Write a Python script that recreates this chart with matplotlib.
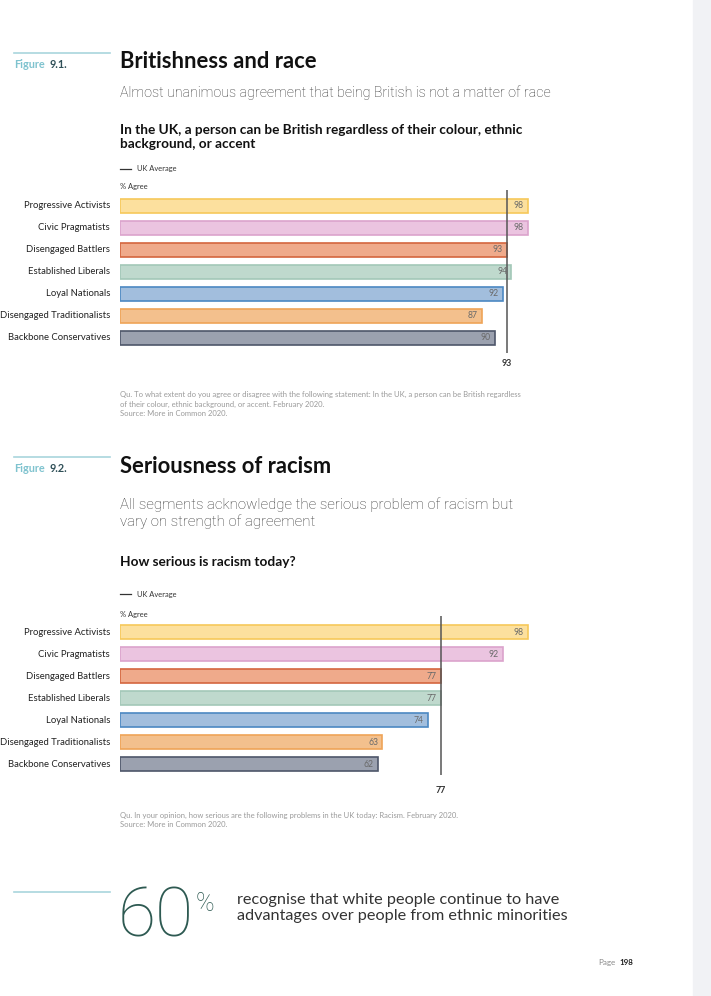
import numpy as np
import matplotlib
matplotlib.use('Agg')
import matplotlib.pyplot as plt

plt.rcParams['font.family'] = ['Lato', 'DejaVu Sans']

# segments and colours
segments = ['Progressive Activists', 'Civic Pragmatists', 'Disengaged Battlers',
            'Established Liberals', 'Loyal Nationals', 'Disengaged Traditionalists',
            'Backbone Conservatives']
fills = ['#FCE09E', '#EBC4E0', '#EFAA8B', '#BFD9CD', '#A2BEDD', '#F3C08D', '#9BA1AF']
edges = ['#F6C85A', '#DBA3CC', '#D4663F', '#A3C8B8', '#4C88C2', '#EFA458', '#4E566A']

# figure 9.1
british = [98, 98, 93, 94, 92, 87, 90]
british_avg = 93

# figure 9.2
racism = [98, 92, 77, 77, 74, 63, 62]
racism_avg = 77

W, H = 711, 996
fig = plt.figure(figsize=(W / 100, H / 100), dpi=100)
fig.patch.set_facecolor('white')

light = ['Roboto', 'DejaVu Sans']


def fx(x):
    return x / W


def fy(y):
    return 1 - y / H


def txt(x, y, s, **kw):
    kw.setdefault('va', 'center')
    fig.text(fx(x), fy(y), s, **kw)


def hline(x0, x1, y, color, lw):
    fig.add_artist(plt.Line2D([fx(x0), fx(x1)], [fy(y), fy(y)], color=color, lw=lw,
                              transform=fig.transFigure))


# grey strip on the right edge
fig.add_artist(plt.Rectangle((fx(693), 0), fx(W - 693), 1, color='#F1F2F5',
                             transform=fig.transFigure, zorder=0))

teal = '#A9D5DD'
teal_txt = '#7FC3CF'
dark = '#2F4F57'


def bar_chart(vals, avg, top, bottom, first_row):
    px = 4.163  # pixels per percentage point
    ax = fig.add_axes([fx(120), fy(bottom), 100 * px / W, (bottom - top) / H])
    ax.set_xlim(0, 100)
    y0 = (top - first_row) / 22
    y1 = (bottom - first_row) / 22
    ax.set_ylim(y1, y0)
    ys = np.arange(len(vals))
    ax.barh(ys, vals, height=0.68, color=fills, edgecolor=edges, linewidth=1.2, zorder=2)
    for y, v in zip(ys, vals):
        ax.text(v - 1.0, y, str(v), ha='right', va='center', fontsize=6.2,
                color='#6A6A6A', zorder=4)
        ax.text(-2.4, y, segments[y], ha='right', va='center', fontsize=6.8,
                color='#222222')
    ax.axvline(avg, color='#555555', lw=1.1, zorder=3)
    ax.axis('off')
    ax.patch.set_alpha(0)
    return ax


# ---- Figure 9.1 ----
hline(14, 110, 53, teal, 1.2)
txt(14, 65, 'Figure', fontsize=7.8, color=teal_txt, fontweight='bold')
txt(50, 65, '9.1.', fontsize=7.8, color=dark, fontweight='bold')
txt(120, 62, 'Britishness and race', fontsize=15.8, fontweight='bold', color='#111111')
txt(120, 93, 'Almost unanimous agreement that being British is not a matter of race',
    fontsize=10.3, color='#333333', fontweight='light', family=light)
txt(120, 137, 'In the UK, a person can be British regardless of their colour, ethnic\n'
    'background, or accent', fontsize=9.8, fontweight='bold', color='#111111',
    linespacing=1.15)
hline(120, 131, 169, '#333333', 0.9)
txt(137, 169, 'UK Average', fontsize=5.4, color='#333333')
txt(120, 186, '% Agree', fontsize=5.4, color='#333333')
bar_chart(british, british_avg, 190, 353, 206)
txt(507, 364, str(british_avg), fontsize=6.4, fontweight='bold', color='#333333', ha='center')
txt(120, 404, 'Qu. To what extent do you agree or disagree with the following statement: '
    'In the UK, a person can be British regardless\nof their colour, ethnic background, '
    'or accent. February 2020.\nSource: More in Common 2020.',
    fontsize=5.5, color='#9A9A9A', linespacing=1.45)

# ---- Figure 9.2 ----
hline(14, 110, 457, teal, 1.2)
txt(14, 468, 'Figure', fontsize=7.8, color=teal_txt, fontweight='bold')
txt(50, 468, '9.2.', fontsize=7.8, color=dark, fontweight='bold')
txt(120, 466, 'Seriousness of racism', fontsize=15.8, fontweight='bold', color='#111111')
txt(120, 513, 'All segments acknowledge the serious problem of racism but\n'
    'vary on strength of agreement', fontsize=10.8, color='#333333',
    fontweight='light', family=light, linespacing=1.25)
txt(120, 562, 'How serious is racism today?', fontsize=9.8, fontweight='bold',
    color='#111111')
hline(120, 131, 594, '#333333', 0.9)
txt(137, 594, 'UK Average', fontsize=5.4, color='#333333')
txt(120, 614, '% Agree', fontsize=5.4, color='#333333')
bar_chart(racism, racism_avg, 616, 775, 632)
txt(441, 790, str(racism_avg), fontsize=6.4, fontweight='bold', color='#333333', ha='center')
txt(120, 820, 'Qu. In your opinion, how serious are the following problems in the UK '
    'today: Racism. February 2020.\nSource: More in Common 2020.',
    fontsize=5.5, color='#9A9A9A', linespacing=1.45)

# ---- callout ----
hline(14, 110, 892, teal, 1.2)
txt(118, 918, '60', fontsize=50, color='#2E5A52', fontweight='light', family=light)
txt(196, 904, '%', fontsize=18, color='#2E5A52', fontweight='light', family=light)
txt(237, 908, 'recognise that white people continue to have\n'
    'advantages over people from ethnic minorities', fontsize=11.7,
    color='#333333', linespacing=1.15)

txt(598, 962, 'Page', fontsize=5.8, color='#888888')
txt(619, 962, '198', fontsize=5.8, color='#222222', fontweight='bold')

fig.savefig('out.png', dpi=100)
